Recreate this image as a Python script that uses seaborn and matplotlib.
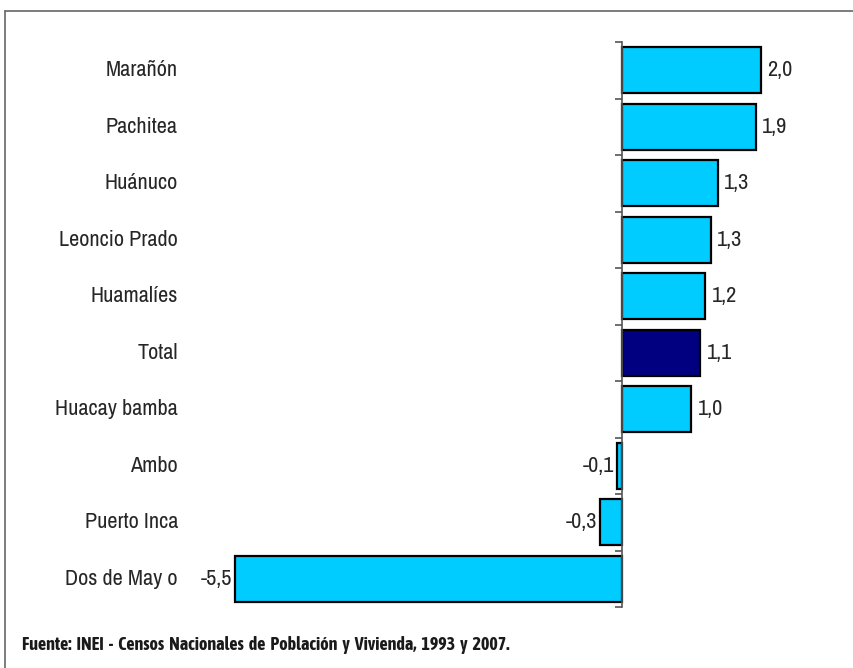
import matplotlib
matplotlib.use("Agg")
import matplotlib.pyplot as plt
import matplotlib.transforms as mtransforms
from matplotlib.lines import Line2D
import seaborn as sns
import pandas as pd

provincias = ["Marañón", "Pachitea", "Huánuco", "Leoncio Prado", "Huamalíes",
              "Total", "Huacay bamba", "Ambo", "Puerto Inca", "Dos de May o"]
tasas = [2.0, 1.9, 1.3, 1.3, 1.2, 1.1, 1.0, -0.1, -0.3, -5.5]
# longitudes dibujadas (lo que mide cada barra en el original)
largos = [1.99, 1.91, 1.37, 1.27, 1.19, 1.12, 0.99, -0.07, -0.32, -5.53]
etiquetas = ["2,0", "1,9", "1,3", "1,3", "1,2", "1,1", "1,0", "-0,1", "-0,3", "-5,5"]
colores = {p: ("#000080" if p == "Total" else "#00CCFF") for p in provincias}

df = pd.DataFrame({"provincia": provincias, "tasa": largos})

W, H = 854, 668
sns.set_style("white")
plt.rcParams['font.family'] = ['Liberation Sans Narrow', 'Archivo Narrow', 'Liberation Sans', 'DejaVu Sans']

fig = plt.figure(figsize=(W / 100, H / 100), dpi=100)
x0, x1, y0, y1 = 180, 800, 42, 607
ax = fig.add_axes([x0 / W, 1 - y1 / H, (x1 - x0) / W, (y1 - y0) / H])

sns.barplot(data=df, x="tasa", y="provincia", hue="provincia", palette=colores,
            order=provincias, legend=False, width=0.82, edgecolor="black",
            linewidth=1.6, ax=ax, saturation=1)

ppu = 70.0
ax.set_xlim((x0 - 622) / ppu, (x1 - 622) / ppu)
ax.set_ylim(len(provincias) - 0.5, -0.5)

for s in ["top", "right", "bottom"]:
    ax.spines[s].set_visible(False)
ax.spines["left"].set_position(("data", 0))
ax.spines["left"].set_color("#555555")
ax.spines["left"].set_linewidth(1.2)
ax.set_xticks([])
ax.set_yticks([i - 0.5 for i in range(len(provincias) + 1)])
ax.set_yticklabels([])
ax.tick_params(axis="y", direction="out", length=5, width=1.2, color="#555555", left=True)
ax.set_xlabel("")
ax.set_ylabel("")

trans = mtransforms.blended_transform_factory(fig.transFigure, ax.transData)
for i, p in enumerate(provincias):
    ax.text(178 / W, i, p, transform=trans, ha="right", va="center", fontsize=16)

for i, (v, t) in enumerate(zip(largos, etiquetas)):
    if v >= 0:
        ax.annotate(t, (v, i), xytext=(4.5, 0), textcoords="offset points",
                    ha="left", va="center", fontsize=16)
    else:
        ax.annotate(t, (v, i), xytext=(-2, 0), textcoords="offset points",
                    ha="right", va="center", fontsize=16)

# marco de la figura
fig.add_artist(Line2D([5 / W, 1.0], [1 - 11 / H, 1 - 11 / H], transform=fig.transFigure,
                      color="#666666", linewidth=1.2))
fig.add_artist(Line2D([5 / W, 5 / W], [0, 1 - 11 / H], transform=fig.transFigure,
                      color="#666666", linewidth=1.2))

fig.text(22 / W, 1 - 645 / H,
         "Fuente:  INEI  -  Censos  Nacionales  de  Población  y  Vivienda,  1993  y  2007.",
         ha="left", va="center", fontsize=13, fontweight="bold", color="#1a1a1a",
         family=['Liberation Sans Narrow', 'Asap Condensed', 'Archivo Narrow', 'DejaVu Sans'])

fig.savefig("out.png", dpi=100)
